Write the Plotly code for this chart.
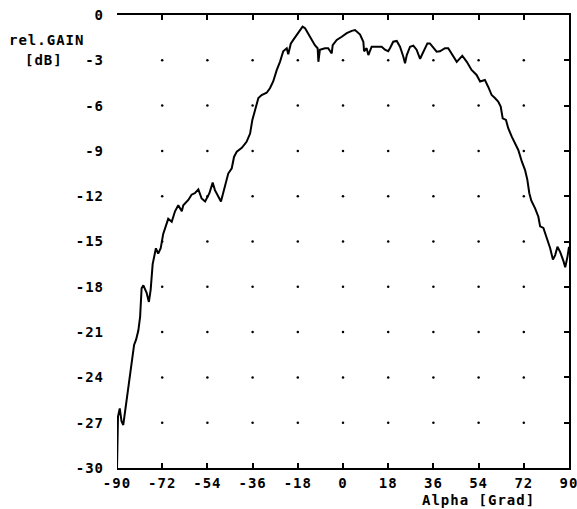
import plotly.graph_objects as go

alpha = [-90, -89.6, -88.9, -88.2, -87.5, -86.9, -86.4, -85.5, -84.8, -84.0, -83.2, -82.4,
         -81.5, -80.8, -80.2, -79.5, -78.2, -77.3, -76.6, -75.8, -75.0, -74.5, -73.6, -72.6,
         -71.6, -70.2, -69.6, -68.2, -66.9, -65.6, -64.2, -63.6, -61.6, -60.3, -59.0, -57.6,
         -56.3, -54.9, -53.2, -51.9, -51.0, -48.6, -47.0, -45.7, -44.3, -43.4, -42.3, -40.3,
         -38.4, -37.0, -36.1, -35.0, -33.7, -32.4, -30.4, -29.1, -27.8, -26.4, -25.1, -23.8,
         -22.4, -21.8, -20.8, -19.8, -18.4, -17.1, -16.1, -15.1, -13.1, -11.2, -10.1, -9.8,
         -9.2, -7.2, -5.9, -4.5, -4.1, -2.5, -0.5, 1.5, 3.5, 4.8, 6.8, 8.1, 8.4, 9.4, 10.1,
         11.4, 13.4, 15.4, 16.7, 18.0, 18.7, 20.0, 21.4, 22.7, 24.0, 24.7, 25.4, 26.7, 28.0,
         29.3, 30.7, 32.0, 33.6, 34.6, 36.0, 37.3, 38.6, 40.6, 41.9, 43.3, 45.3, 47.5, 49.3,
         51.2, 53.2, 54.6, 56.5, 57.8, 59.2, 60.5, 61.8, 62.8, 63.6, 64.9, 65.8, 67.2, 68.5,
         69.8, 71.2, 72.5, 73.4, 74.2, 75.0, 76.5, 77.8, 78.5, 79.8, 81.2, 81.8, 82.5, 83.6,
         84.5, 85.4, 86.5, 87.8, 88.5, 89.4, 90]
gain = [-30, -26.6, -26.05, -26.9, -27.15, -26.4, -25.9, -24.8, -23.7, -22.6, -21.85, -21.5,
        -20.9, -20.0, -18.1, -17.9, -18.4, -19.0, -18.2, -16.5, -15.7, -15.45, -15.8, -15.45,
        -14.5, -13.7, -13.5, -13.7, -13.0, -12.6, -13.0, -12.6, -12.25, -11.9, -11.8, -11.55,
        -12.15, -12.35, -11.8, -11.1, -11.6, -12.35, -11.4, -10.5, -10.15, -9.4, -9.05, -8.8,
        -8.4, -7.85, -6.95, -6.3, -5.5, -5.3, -5.15, -4.85, -4.4, -3.65, -3.1, -2.4,
        -2.2, -2.6, -1.9, -1.65, -1.3, -1.0, -0.77, -0.88, -1.44, -2.0, -2.2, -3.1,
        -2.3, -2.2, -2.2, -2.55, -2.0, -1.65, -1.44, -1.2, -1.05, -1.0, -1.3, -1.77, -2.4, -2.2, -2.65,
        -2.1, -2.1, -2.1, -2.3, -2.4, -2.2, -1.77, -1.72, -2.1, -2.75, -3.2, -2.65, -2.1, -2.03,
        -2.3, -2.9, -2.43, -1.88, -1.88, -2.2, -2.43, -2.4, -2.2, -2.2, -2.6, -3.1, -2.7, -3.1,
        -3.64, -3.97, -4.4, -4.3, -4.75, -5.3, -5.5, -5.74, -6.07, -6.85, -6.95, -7.5, -8.06, -8.5,
        -8.94, -9.7, -10.27, -10.9, -11.8, -12.3, -12.8, -13.36, -14.0, -14.1, -14.8, -15.2, -15.45, -16.2,
        -15.9, -15.35, -15.7, -16.3, -16.7, -16.0, -15.35]

x_ticks = [-90, -72, -54, -36, -18, 0, 18, 36, 54, 72, 90]
x_tick_labels = ["-90", "-72", "-54", "-36", "-18", "0", "18", "36", "54", "72", "90"]
y_ticks = [0, -3, -6, -9, -12, -15, -18, -21, -24, -27, -30]
y_tick_labels = ["0", "-3", "-6", "-9", "-12", "-15", "-18", "-21", "-24", "-27", "-30"]

FONT = "DejaVu Sans Mono"
sp = lambda s: '<span style="letter-spacing:1px">' + s + '</span>'

# grid dots at interior tick intersections
gx, gy = [], []
for xv in x_ticks[1:-1]:
    for yv in y_ticks[1:-1]:
        gx.append(xv)
        gy.append(yv)

fig = go.Figure()
fig.add_trace(go.Scatter(x=gx, y=gy, mode="markers",
                         marker=dict(size=2.5, color="black"), hoverinfo="skip",
                         showlegend=False))
fig.add_trace(go.Scatter(x=alpha, y=gain, mode="lines",
                         line=dict(color="black", width=2), showlegend=False))
fig.add_trace(go.Scatter(x=[None], y=[None], yaxis="y2", showlegend=False))

tickfont = dict(family=FONT, size=14, color="black", weight="bold")

fig.update_layout(
    width=577, height=509,
    margin=dict(l=117, r=8, t=15, b=41),
    paper_bgcolor="white", plot_bgcolor="white",
    xaxis=dict(range=[-90, 90], tickvals=x_ticks, ticktext=[sp(t) for t in x_tick_labels],
               showgrid=False, zeroline=False, showline=True, mirror="ticks",
               linecolor="black", linewidth=1.5, ticks="inside", ticklen=5,
               tickwidth=1.5, tickcolor="black", tickfont=tickfont,
               ticklabelstandoff=1, ticklabeloverflow="allow", automargin=False),
    yaxis=dict(range=[-30, 0], tickvals=y_ticks, ticktext=[sp(t) for t in y_tick_labels],
               showgrid=False, zeroline=False, showline=False, ticks="",
               tickfont=tickfont, ticklabelstandoff=12, ticklabeloverflow="allow",
               automargin=False),
    yaxis2=dict(range=[-30, 0], overlaying="y", side="right", tickvals=y_ticks,
                showticklabels=False, showgrid=False, zeroline=False, showline=True,
                linecolor="black", linewidth=1.5, ticks="inside", ticklen=5,
                tickwidth=1.5, tickcolor="black", automargin=False),
    annotations=[
        dict(text=sp("rel.GAIN"), xref="paper", yref="paper", x=-0.2434, y=0.9448,
             xanchor="left", yanchor="middle", showarrow=False, font=tickfont),
        dict(text=sp("[dB]"), xref="paper", yref="paper", x=-0.208, y=0.9007,
             xanchor="left", yanchor="middle", showarrow=False, font=tickfont),
        dict(text=sp("Alpha [Grad]"), xref="paper", yref="paper", x=0.7987, y=-0.0700,
             xanchor="center", yanchor="middle", showarrow=False, font=tickfont),
    ],
)

fig.write_html(
    "out.html",
    config={"displayModeBar": False},
    post_script="document.body.style.margin='0';document.body.style.overflow='hidden';",
)
